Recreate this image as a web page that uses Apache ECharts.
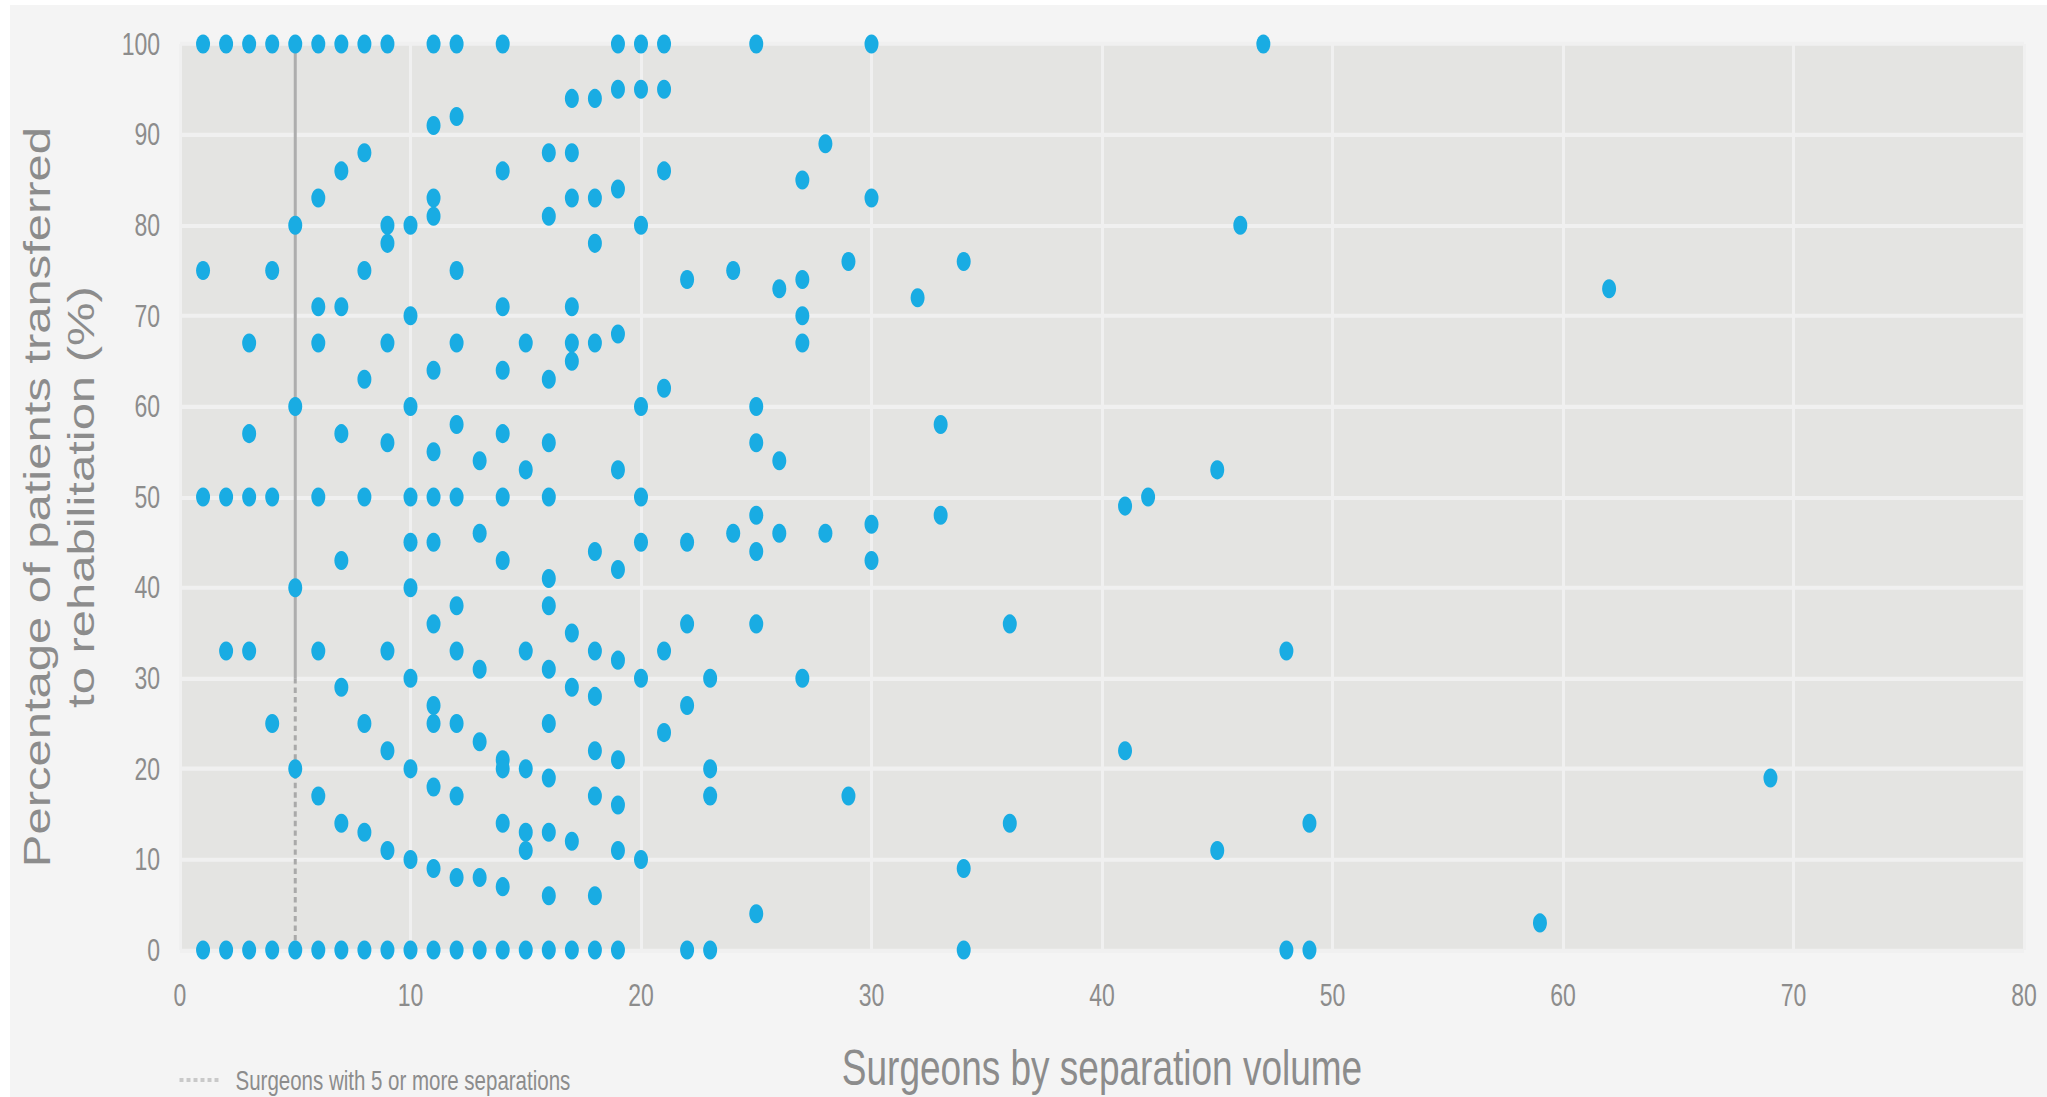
<!DOCTYPE html>
<html>
<head>
<meta charset="utf-8">
<title>Surgeons by separation volume</title>
<script src="https://cdn.jsdelivr.net/npm/echarts@6/dist/echarts.min.js"></script>
<style>
  html, body { margin: 0; padding: 0; width: 2047px; height: 1097px; overflow: hidden; background: #ffffff; }
  #frame { position: absolute; left: 10px; top: 5px; width: 2037px; height: 1092px; background: #f4f4f4; overflow: hidden; }
  /* the chart is laid out at 803px tall and stretched vertically to fill the frame */
  #chart { position: absolute; left: 0; top: 0; width: 2037px; height: 803px; transform: scaleY(1.36); transform-origin: 0 0; }
</style>
</head>
<body>
<div id="frame"><div id="chart"></div></div>
<script>
// Separation volume per surgeon (x) and the % of that surgeon's patients
// transferred to rehabilitation (y). Each volume lists every surgeon with it.
const volumes = [1, 2, 3, 4, 5, 6, 7, 8, 9, 10, 11, 12, 13, 14, 15, 16, 17, 18, 19, 20,
                 21, 22, 23, 24, 25, 26, 27, 28, 29, 30, 32, 33, 34, 36, 41, 42, 45, 46,
                 47, 48, 49, 59, 62, 69];
const pctByVolume = [
  [100, 75, 50, 0],                                   // 1
  [100, 50, 33, 0],                                   // 2
  [100, 67, 57, 50, 33, 0],                           // 3
  [100, 75, 50, 25, 0],                               // 4
  [100, 80, 60, 40, 20, 0],                           // 5
  [100, 83, 71, 67, 50, 33, 17, 0],                   // 6
  [100, 86, 71, 57, 43, 29, 14, 0],                   // 7
  [100, 88, 75, 63, 50, 25, 13, 0],                   // 8
  [100, 80, 78, 67, 56, 33, 22, 11, 0],               // 9
  [80, 70, 60, 50, 45, 40, 30, 20, 10, 0],            // 10
  [100, 91, 83, 81, 64, 55, 50, 45, 36, 27, 25, 18, 9, 0], // 11
  [100, 92, 75, 67, 58, 50, 38, 33, 25, 17, 8, 0],    // 12
  [54, 46, 31, 23, 8, 0],                             // 13
  [100, 86, 71, 64, 57, 50, 43, 21, 20, 14, 7, 0],    // 14
  [67, 53, 33, 20, 13, 11, 0],                        // 15
  [88, 81, 63, 56, 50, 41, 38, 31, 25, 19, 13, 6, 0], // 16
  [94, 88, 83, 71, 67, 65, 35, 29, 12, 0],            // 17
  [94, 83, 78, 67, 44, 33, 28, 22, 17, 6, 0],         // 18
  [100, 95, 84, 68, 53, 42, 32, 21, 16, 11, 0],       // 19
  [100, 95, 80, 60, 50, 45, 30, 10],                  // 20
  [100, 95, 86, 62, 33, 24],                          // 21
  [74, 45, 36, 27, 0],                                // 22
  [30, 20, 17, 0],                                    // 23
  [75, 46],                                           // 24
  [100, 60, 56, 48, 44, 36, 4],                       // 25
  [73, 54, 46],                                       // 26
  [85, 74, 70, 67, 30],                               // 27
  [89, 46],                                           // 28
  [76, 17],                                           // 29
  [100, 83, 47, 43],                                  // 30
  [72],                                               // 32
  [58, 48],                                           // 33
  [76, 9, 0],                                         // 34
  [36, 14],                                           // 36
  [49, 22],                                           // 41
  [50],                                               // 42
  [53, 11],                                           // 45
  [80],                                               // 46
  [100],                                              // 47
  [33, 0],                                            // 48
  [14, 0],                                            // 49
  [3],                                                // 59
  [73],                                               // 62
  [19]                                                // 69
];

// Threshold marker: surgeons with 5 or more separations
const thresholdVolume = 5;
const thresholdLabel = 'Surgeons with 5 or more separations';
const thresholdDottedTo = 30;   // dotted lower part of the marker
const thresholdTop = 100;

const xTitle = 'Surgeons by separation volume';
const yTitle = 'Percentage of patients transferred\nto rehabilitation (%)';

const points = [];
volumes.forEach(function (v, i) {
  pctByVolume[i].forEach(function (p) { points.push([v, p]); });
});

const FONT = "'Liberation Sans', Arial, Helvetica, sans-serif";
const GREY = '#8c8c8c';

const chart = echarts.init(document.getElementById('chart'), null, { renderer: 'svg' });
chart.setOption({
  animation: false,
  backgroundColor: '#f4f4f4',
  textStyle: { fontFamily: FONT },
  grid: {
    left: 170, right: 23, top: 28.7, bottom: 108.1,
    show: true, backgroundColor: '#e4e4e2', borderWidth: 0,
    containLabel: false, outerBoundsMode: 'none'
  },
  legend: {
    data: [thresholdLabel],
    left: 168, top: 780, padding: 0,
    itemWidth: 40, itemHeight: 14,
    itemStyle: { opacity: 0 },
    lineStyle: { color: '#c9c9c9', width: 3, type: [4, 3] },
    textStyle: { fontFamily: FONT, fontSize: 20.5, color: GREY, padding: [0, 0, 0, 11] }
  },
  xAxis: {
    type: 'value', min: 0, max: 80, interval: 10,
    axisLine: { show: false }, axisTick: { show: false },
    splitLine: { show: true, lineStyle: { color: '#f0f0f0', width: 3 } },
    axisLabel: { margin: 21.5, fontSize: 23, color: GREY, fontFamily: FONT },
    name: xTitle, nameLocation: 'middle', nameGap: 68,
    nameTextStyle: { fontSize: 37, color: GREY, fontFamily: FONT }
  },
  yAxis: {
    type: 'value', min: 0, max: 100, interval: 10,
    axisLine: { show: false }, axisTick: { show: false },
    splitLine: { show: true, lineStyle: { color: '#f0f0f0', width: 3 } },
    axisLabel: { margin: 20, fontSize: 23, color: GREY, fontFamily: FONT, padding: [15, 0, 0, 0] },
    name: yTitle, nameLocation: 'middle', nameRotate: 90, nameGap: 77,
    nameMoveOverlap: false,
    nameTextStyle: { fontSize: 36, lineHeight: 44, color: GREY, fontFamily: FONT, align: 'center' }
  },
  series: [
    {
      name: thresholdLabel,
      type: 'line',
      data: [[thresholdVolume, 0], [thresholdVolume, thresholdDottedTo]],
      symbol: 'none', silent: true, z: 1,
      lineStyle: { color: '#a9a9a9', width: 3, type: [4, 3] }
    },
    {
      name: 'threshold-upper',
      type: 'line',
      data: [[thresholdVolume, thresholdDottedTo], [thresholdVolume, thresholdTop]],
      symbol: 'none', silent: true, z: 1,
      lineStyle: { color: '#adadad', width: 3, type: 'solid' }
    },
    {
      name: 'Surgeons',
      type: 'scatter',
      data: points,
      symbol: 'circle', symbolSize: 14, z: 3,
      itemStyle: { color: '#19ace3', opacity: 1 }
    }
  ]
});
</script>
</body>
</html>
